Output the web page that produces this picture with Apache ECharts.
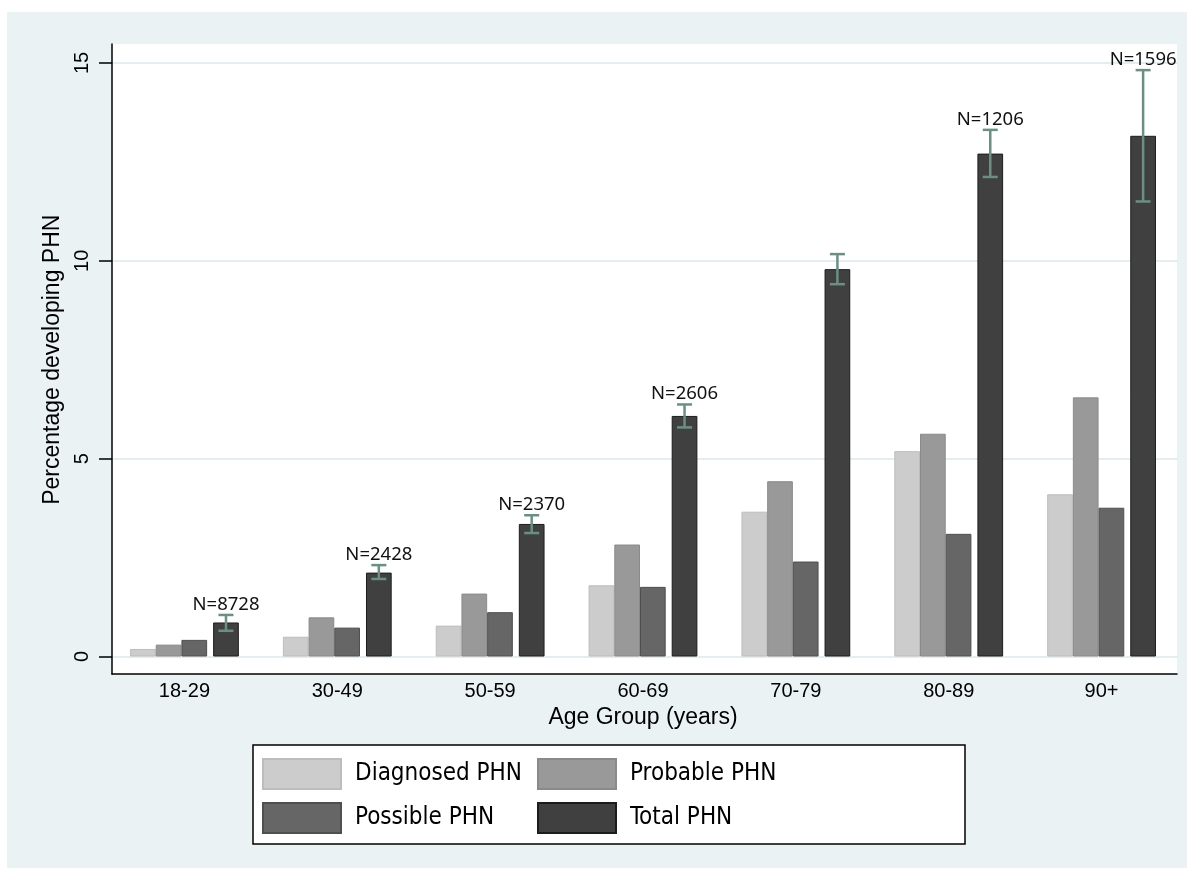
<!DOCTYPE html>
<html>
<head>
<meta charset="utf-8">
<script src="https://cdn.jsdelivr.net/npm/echarts@6/dist/echarts.min.js"></script>
<style>
html,body{margin:0;padding:0;background:#fff;}
#chart{width:1196px;height:879px;}
</style>
</head>
<body>
<div id="chart"></div>
<script>
// ---- data ----
const categories = ['18-29', '30-49', '50-59', '60-69', '70-79', '80-89', '90+'];
const diagnosed = [0.19, 0.50, 0.78, 1.80, 3.66, 5.19, 4.10];
const probable  = [0.30, 0.99, 1.59, 2.83, 4.43, 5.63, 6.55];
const possible  = [0.42, 0.73, 1.12, 1.76, 2.40, 3.10, 3.76];
const total     = [0.86, 2.12, 3.35, 6.08, 9.79, 12.71, 13.16];
const ciLow     = [0.65, 1.96, 3.12, 5.79, 9.41, 12.12, 11.50];
const ciHigh    = [1.05, 2.31, 3.57, 6.37, 10.17, 13.31, 14.82];
const nCounts   = [8728, 2428, 2370, 2606, null, 1206, 1596];
const yTicks    = [0, 5, 10, 15];

// ---- style constants ----
const BAR_W = 25.7;
const GAP_W = 6;
const TOTAL_OFFSET = 1.5 * BAR_W + GAP_W / 2; // centre of Total bar relative to category centre
const AXIS_FONT = '"Liberation Sans", Arial, sans-serif';
const LEGEND_FONT = '"Liberation Sans Narrow", "Arial Narrow", "DejaVu Sans Condensed", "Liberation Sans", sans-serif';

const chart = echarts.init(document.getElementById('chart'));

const errData = categories.map((c, i) => [i, ciLow[i], ciHigh[i]]);

function barSeries(name, data, color, border, width) {
  return {
    name: name, type: 'bar', xAxisIndex: 0, yAxisIndex: 0,
    data: data, barWidth: width, barGap: '0%', barCategoryGap: '28%',
    itemStyle: { color: color, borderColor: border, borderWidth: 1 },
    emphasis: { disabled: true }, silent: true
  };
}

const legendCommon = {
  orient: 'vertical', top: 758, padding: 0, icon: 'rect',
  itemWidth: 78, itemHeight: 30, itemGap: 12, selectedMode: false, z: 5,
  textStyle: { fontFamily: LEGEND_FONT, fontSize: 24, color: '#000', padding: [0, 0, 0, 9] }
};

const option = {
  backgroundColor: '#ffffff',
  animation: false,
  graphic: [
    { type: 'rect', z: -5, silent: true,
      shape: { x: 7, y: 12, width: 1180, height: 856 },
      style: { fill: '#EAF2F3' } },
    { type: 'rect', z: 1, silent: true,
      shape: { x: 253, y: 745, width: 712, height: 99 },
      style: { fill: '#ffffff', stroke: '#000000', lineWidth: 1.5 } }
  ],
  grid: [
    { left: 108, right: 18, top: 63, bottom: 222.5 },
    { left: 112, right: 19, top: 44, bottom: 205, show: true, backgroundColor: '#ffffff', borderWidth: 0, z: -1 }
  ],
  legend: [
    Object.assign({ data: ['Diagnosed PHN', 'Possible PHN'], left: 262 }, legendCommon),
    Object.assign({ data: ['Probable PHN', 'Total PHN'], left: 537 }, legendCommon)
  ],
  xAxis: [
    { type: 'category', gridIndex: 0, data: categories,
      axisLine: { show: false }, axisTick: { show: false },
      axisLabel: { fontFamily: AXIS_FONT, fontSize: 20, color: '#000', margin: 25 },
      name: 'Age Group (years)', nameLocation: 'middle', nameGap: 48,
      nameTextStyle: { fontFamily: AXIS_FONT, fontSize: 23, color: '#000' } },
    { type: 'value', gridIndex: 1, min: 0, max: 1, show: true,
      axisLine: { show: true, onZero: false, lineStyle: { color: '#000', width: 1.5 } },
      axisTick: { show: false }, axisLabel: { show: false }, splitLine: { show: false } }
  ],
  yAxis: [
    { type: 'value', gridIndex: 0, min: 0, max: 15, interval: 5, offset: -4,
      axisLine: { show: false },
      axisTick: { show: true, length: 13, lineStyle: { color: '#000', width: 1.5 } },
      axisLabel: { fontFamily: AXIS_FONT, fontSize: 20, color: '#000', rotate: 90, margin: 20 },
      splitLine: { show: true, lineStyle: { color: '#E4EDF0', width: 2 } },
      name: 'Percentage developing PHN', nameLocation: 'middle', nameGap: 47,
      nameTextStyle: { fontFamily: AXIS_FONT, fontSize: 23, color: '#000' } },
    { type: 'value', gridIndex: 1, min: 0, max: 1, show: true,
      axisLine: { show: true, onZero: false, lineStyle: { color: '#000', width: 1.5 } },
      axisTick: { show: false }, axisLabel: { show: false }, splitLine: { show: false } }
  ],
  series: [
    barSeries('Diagnosed PHN', diagnosed, '#cccccc', '#bdbdbd', BAR_W),
    barSeries('Probable PHN', probable, '#999999', '#8a8a8a', BAR_W),
    barSeries('Possible PHN', possible, '#666666', '#4f4f4f', BAR_W),
    { name: '_spacer', type: 'bar', xAxisIndex: 0, yAxisIndex: 0, barWidth: GAP_W, barGap: '0%',
      data: categories.map(() => '-'), silent: true, itemStyle: { color: 'rgba(0,0,0,0)' } },
    barSeries('Total PHN', total, '#404040', '#1c1c1c', BAR_W),
    { name: 'CI', type: 'custom', xAxisIndex: 0, yAxisIndex: 0, z: 4, silent: true,
      data: errData,
      renderItem: function (params, api) {
        const idx = api.value(0);
        const pLo = api.coord([idx, api.value(1)]);
        const pHi = api.coord([idx, api.value(2)]);
        const x = pLo[0] + TOTAL_OFFSET;
        const cap = 7.5;
        const ls = { stroke: '#6B8F85', lineWidth: 2.5 };
        const children = [
          { type: 'line', shape: { x1: x, y1: pHi[1], x2: x, y2: pLo[1] }, style: ls },
          { type: 'line', shape: { x1: x - cap, y1: pHi[1], x2: x + cap, y2: pHi[1] }, style: ls },
          { type: 'line', shape: { x1: x - cap, y1: pLo[1], x2: x + cap, y2: pLo[1] }, style: ls }
        ];
        if (nCounts[idx] != null) {
          children.push({ type: 'text', style: {
            x: x, y: pHi[1] - 1, text: 'N=' + nCounts[idx],
            align: 'center', verticalAlign: 'bottom',
            font: '18.5px "Noto Sans", sans-serif', fill: '#111' } });
        }
        return { type: 'group', children: children };
      }
    }
  ]
};
chart.setOption(option);
</script>
</body>
</html>
